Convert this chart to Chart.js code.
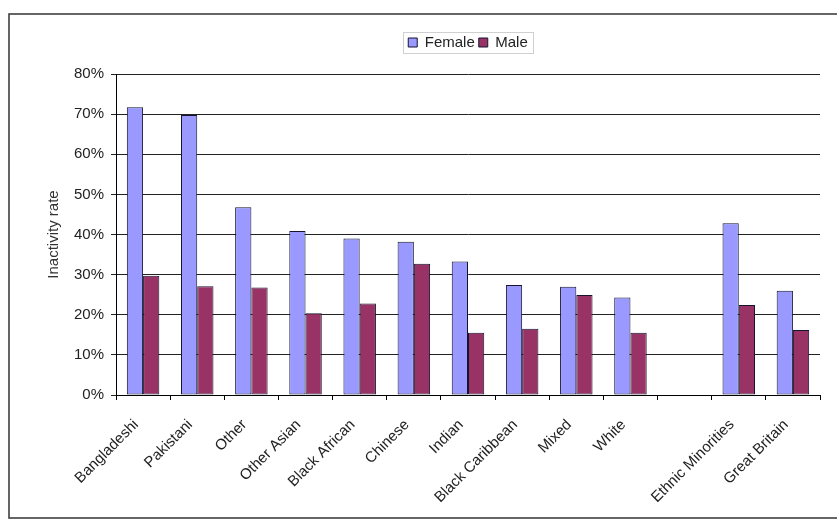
<!DOCTYPE html>
<html>
<head>
<meta charset="utf-8">
<title>Inactivity rate by ethnic group</title>
<script src="https://cdn.jsdelivr.net/npm/chart.js@4.4.1/dist/chart.umd.min.js"></script>
<style>
  html, body { margin: 0; padding: 0; background: #ffffff; }
  #wrap { width: 837px; height: 520px; position: relative; }
</style>
</head>
<body>
<div id="wrap"><canvas id="chart" width="837" height="520"></canvas></div>
<script>
// Ethnic groups (the empty entry keeps a gap before the summary groups)
const categories = [
  'Bangladeshi', 'Pakistani', 'Other', 'Other Asian', 'Black African', 'Chinese',
  'Indian', 'Black Caribbean', 'Mixed', 'White', '', 'Ethnic Minorities', 'Great Britain'
];
// Economic inactivity rate, percent
const femaleRates = [71.7, 69.8, 46.8, 40.9, 39.0, 38.2, 33.3, 27.4, 27.0, 24.3, null, 42.8, 26.0];
const maleRates   = [29.7, 27.1, 26.8, 20.4, 22.8, 32.7, 15.5, 16.5, 24.9, 15.5, null, 22.4, 16.2];
// Value axis ticks
const yTicks = [0, 10, 20, 30, 40, 50, 60, 70, 80];

const FONT = 'Liberation Sans, Arial, sans-serif';
const INK = '#222222';

// Outer frame around the whole chart, and a thin box around the legend
const framePlugin = {
  id: 'frame',
  beforeDraw(chart) {
    const ctx = chart.ctx;
    ctx.save();
    ctx.fillStyle = '#ffffff';
    ctx.fillRect(0, 0, chart.width, chart.height);
    ctx.strokeStyle = '#333333';
    ctx.lineWidth = 1.5;
    ctx.strokeRect(9, 14, chart.width + 10, chart.height - 16);
    ctx.restore();
  },
  afterLayout(chart) {
    // centre the legend over the plot area
    const lg = chart.legend;
    if (lg) {
      lg.left = chart.chartArea.left;
      lg.right = chart.chartArea.right;
      lg.width = lg.right - lg.left;
    }
  },
  afterDraw(chart) {
    const lg = chart.legend;
    if (!lg || !lg.legendHitBoxes || !lg.legendHitBoxes.length) return;
    const hb = lg.legendHitBoxes;
    let l = Infinity, r = -Infinity, t = Infinity, b = -Infinity;
    hb.forEach(h => {
      l = Math.min(l, h.left); r = Math.max(r, h.left + h.width);
      t = Math.min(t, h.top); b = Math.max(b, h.top + h.height);
    });
    const ctx = chart.ctx;
    ctx.save();
    ctx.strokeStyle = '#d0d0d0';
    ctx.lineWidth = 1;
    ctx.strokeRect(Math.round(l - 5) + 0.5, Math.round(t - 3) + 0.5, Math.round(r - l + 10), Math.round(b - t + 6));
    ctx.restore();
  }
};

new Chart(document.getElementById('chart'), {
  type: 'bar',
  data: {
    labels: categories,
    datasets: [
      {
        label: 'Female',
        data: femaleRates,
        backgroundColor: '#9999ff',
        borderColor: '#141430',
        borderWidth: 1,
        borderSkipped: false
      },
      {
        label: 'Male',
        data: maleRates,
        backgroundColor: '#993366',
        borderColor: '#141430',
        borderWidth: 1,
        borderSkipped: false
      }
    ]
  },
  options: {
    responsive: false,
    animation: false,
    devicePixelRatio: 1,
    layout: { padding: { left: 12, right: 17, top: 31, bottom: 0 } },
    datasets: {
      bar: { categoryPercentage: 0.6, barPercentage: 1.0 }
    },
    plugins: {
      tooltip: { enabled: false },
      // empty spacer line between the legend and the plot area
      subtitle: {
        display: true,
        text: ' ',
        position: 'top',
        weight: 500,
        padding: 0,
        font: { family: FONT, size: 10, lineHeight: '14px' }
      },
      legend: {
        position: 'top',
        labels: {
          color: INK,
          font: { family: FONT, size: 15 },
          boxWidth: 9,
          boxHeight: 9,
          padding: 4,
          generateLabels(chart) {
            return chart.data.datasets.map((ds, i) => ({
              text: ds.label,
              fillStyle: ds.backgroundColor,
              strokeStyle: '#141430',
              lineWidth: 1,
              hidden: false,
              datasetIndex: i,
              fontColor: INK
            }));
          }
        }
      }
    },
    scales: {
      x: {
        afterFit(scale) { scale.height = 125; },
        border: { display: true, color: '#000000', width: 1 },
        grid: {
          offset: true,
          drawOnChartArea: false,
          drawTicks: true,
          tickLength: 5,
          color: '#000000'
        },
        ticks: {
          color: INK,
          font: { family: FONT, size: 15 },
          autoSkip: false,
          minRotation: 45,
          maxRotation: 45,
          padding: 16,
          labelOffset: -7
        }
      },
      y: {
        min: 0,
        max: 80,
        afterFit(scale) { scale.width = 104; },
        afterBuildTicks(scale) { scale.ticks = yTicks.map(v => ({ value: v })); },
        border: { display: true, color: '#000000', width: 1 },
        grid: {
          color: '#222222',
          lineWidth: 1,
          drawTicks: true,
          tickLength: 5
        },
        ticks: {
          color: INK,
          font: { family: FONT, size: 15 },
          padding: 7,
          callback: v => v + '%'
        },
        title: {
          display: true,
          text: 'Inactivity rate',
          color: '#333333',
          font: { family: FONT, size: 15 },
          padding: { top: 33, bottom: 0 }
        }
      }
    }
  },
  plugins: [framePlugin]
});
</script>
</body>
</html>
